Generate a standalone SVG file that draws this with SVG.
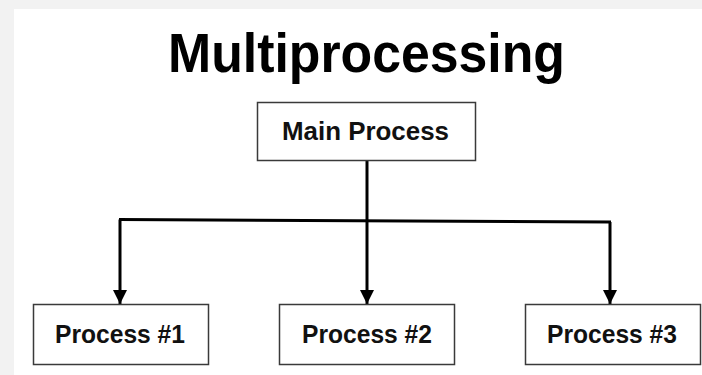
<svg xmlns="http://www.w3.org/2000/svg" width="702" height="375" viewBox="0 0 702 375">
  <defs>
    <marker id="arrow" markerUnits="userSpaceOnUse" markerWidth="14" markerHeight="16" refX="14" refY="7" orient="auto">
      <path d="M0,0 L14,7 L0,14 Z" fill="#000"/>
    </marker>
    <style>
      .box { fill: #ffffff; stroke: #3a3a3a; stroke-width: 1.5; }
      .lbl { font-family: "Liberation Sans", Arial, sans-serif; font-weight: bold; font-size: 26px; fill: #111; text-anchor: middle; }
      .title { font-family: "Liberation Sans", Arial, sans-serif; font-weight: bold; font-size: 56px; fill: #000; text-anchor: middle; }
      .conn { stroke: #000; stroke-width: 3; fill: none; }
    </style>
  </defs>
  <rect x="0" y="0" width="702" height="375" fill="#f2f2f2"/>
  <rect x="14" y="9" width="688" height="366" fill="#ffffff"/>
  <text class="title" x="366.5" y="72" textLength="397" lengthAdjust="spacingAndGlyphs">Multiprocessing</text>
  <g id="connectors">
    <line class="conn" x1="119" y1="219.5" x2="611" y2="222"/>
    <line class="conn" x1="120" y1="219.5" x2="120" y2="304" marker-end="url(#arrow)"/>
    <line class="conn" x1="367" y1="161" x2="367" y2="304" marker-end="url(#arrow)"/>
    <line class="conn" x1="610" y1="222" x2="610" y2="304" marker-end="url(#arrow)"/>
  </g>
  <g id="main">
    <rect class="box" x="257.5" y="102.5" width="218" height="58"/>
    <text class="lbl" x="365.5" y="140" textLength="167" lengthAdjust="spacingAndGlyphs">Main Process</text>
  </g>
  <g id="p1">
    <rect class="box" x="33.5" y="304.5" width="175" height="60"/>
    <text class="lbl" x="120" y="343" textLength="130" lengthAdjust="spacingAndGlyphs">Process #1</text>
  </g>
  <g id="p2">
    <rect class="box" x="279.5" y="304.5" width="175" height="60"/>
    <text class="lbl" x="367" y="343" textLength="130" lengthAdjust="spacingAndGlyphs">Process #2</text>
  </g>
  <g id="p3">
    <rect class="box" x="525.5" y="304.5" width="175" height="60"/>
    <text class="lbl" x="612" y="343" textLength="130" lengthAdjust="spacingAndGlyphs">Process #3</text>
  </g>
</svg>
